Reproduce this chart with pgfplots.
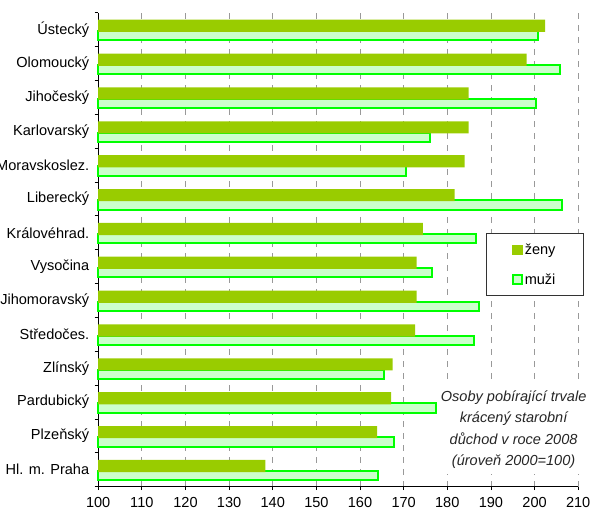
\documentclass[border=0pt]{standalone}
\usepackage{pgfplots}
\pgfplotsset{compat=1.18}
\usepackage{fontspec}
\setmainfont{Liberation Sans}
\definecolor{zeny}{HTML}{99CC00}
\definecolor{muzifill}{HTML}{CCFFCC}
\definecolor{muziline}{HTML}{00FF00}
\pgfplotstableread{
y zeny muzi
13 202.4 200.8
12 198.2 205.9
11 184.9 200.4
10 184.9 176.1
9 184.0 170.6
8 181.7 206.3
7 174.4 186.5
6 173.0 176.6
5 173.0 187.2
4 172.6 186.2
3 167.5 165.6
2 167.1 177.4
1 163.9 167.9
0 138.3 164.2
}\data
\begin{document}
\begin{tikzpicture}
\useasboundingbox (0,0) rectangle (592bp,513bp);
\begin{axis}[
  at={(98.2bp,26.3bp)}, anchor=south west,
  scale only axis, width=480bp, height=474bp,
  xmin=100, xmax=210, ymin=-0.5, ymax=13.5,
  xbar, 
  axis x line*=bottom, axis y line*=left,
  axis line style={black, line width=0.8bp, -},
  xtick={100,110,...,210},
  ytick={0,...,13},
  yticklabels={Hl. m. Praha,Plzeňský,Pardubický,Zlínský,Středočes.,Jihomoravský,Vysočina,Královéhrad.,Liberecký,Moravskoslez.,Karlovarský,Jihočeský,Olomoucký,Ústecký},
  minor ytick={-0.5,0.5,...,13.5},
  major y tick style={draw=none},
  minor y tick style={black, line width=0.8bp},
  minor tick length=3.5bp,
  x tick style={black, line width=0.8bp},
  major tick length=3.5bp,
  tick align=outside,
  xmajorgrids,
  major x grid style={gray!80, line width=0.8bp, dash pattern=on 6bp off 6bp},
  ticklabel style={font=\fontsize{14.6}{16}\selectfont, black},
  /pgf/number format/assume math mode=true,
  yticklabel style={xshift=-2bp},
  xticklabel style={yshift=-6.5bp, inner ysep=0.5bp},
  reverse legend,
  legend style={at={(0.807,0.535)}, anchor=north west, draw=black!80, line width=0.8bp,
    font=\fontsize{14.6}{16}\selectfont, inner xsep=26bp, inner ysep=8bp, row sep=14bp,
    legend cell align=left},
  clip=false,
]
\addplot[fill=muzifill, draw=muziline, line width=2bp, bar width=9.3bp, bar shift=-6bp,
  legend image code/.code={\draw[fill=muzifill, draw=muziline, line width=1.6bp] (2bp,-4.5bp) rectangle (11bp,4.5bp);}]
  table[x=muzi, y=y]{\data};
\addlegendentry{muži}
\addplot[fill=zeny, draw=none, bar width=12.2bp, bar shift=3.8bp,
  legend image code/.code={\fill[zeny] (1.5bp,-5bp) rectangle (12bp,5bp);}]
  table[x=zeny, y=y]{\data};
\addlegendentry{ženy}
\node[align=center, font=\fontsize{14.6}{21.7}\selectfont\itshape, text=black!85, fill=white,
  inner xsep=2bp, inner ysep=5bp, anchor=north]
  at (axis cs:195.2,2.5) {Osoby pobírající trvale\\krácený starobní\\důchod v roce 2008\\(úroveň 2000=100)};
\end{axis}
\end{tikzpicture}
\end{document}
